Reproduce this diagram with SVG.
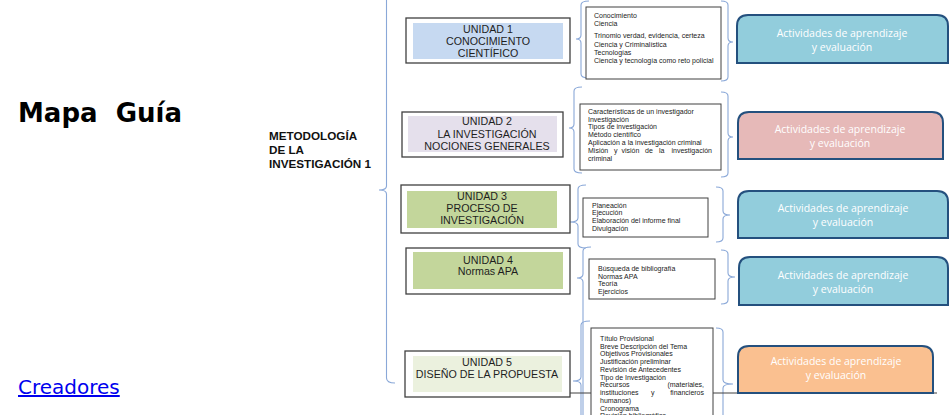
<svg xmlns="http://www.w3.org/2000/svg" width="950" height="415" viewBox="0 0 950 415">
<defs>
<style>
.unit{fill:#fff;stroke:#404040;stroke-width:1.3}
.ut{font-family:"Liberation Sans",Arial,sans-serif;font-size:10.7px;fill:#1e1e1e;text-anchor:middle}
.cbox{fill:#fff;stroke:#404040;stroke-width:1}
.ct{font-family:"Liberation Sans",Arial,sans-serif;font-size:7px;fill:#222}
.act{stroke:#24507e;stroke-width:2}
.at{font-family:"Open Sans","Liberation Sans",sans-serif;font-size:10.5px;fill:#fff;text-anchor:middle}
.br{fill:none;stroke:#8aa8d8;stroke-width:1.1}
</style>
</defs>
<rect width="950" height="415" fill="#fff"/>

<g id="title">
<text x="18" y="122" font-family="DejaVu Sans,Verdana,sans-serif" font-size="26" font-weight="bold" fill="#000">Mapa&#160; Guía</text>
</g>
<g id="creadores">
<text x="18" y="394" font-family="DejaVu Sans,Verdana,sans-serif" font-size="20" fill="#0000ee" text-decoration="underline">Creadores</text>
</g>
<g id="subject">
<text font-family="Liberation Sans,Arial,sans-serif" font-size="11.7" font-weight="bold" fill="#111">
<tspan x="269" y="140">METODOLOGÍA</tspan>
<tspan x="269" y="154">DE LA</tspan>
<tspan x="269" y="168">INVESTIGACIÓN 1</tspan>
</text>
</g>

<g id="connectors">
<path class="br" d="M386.5 -2 L386.5 186 Q386.5 190 379 190 Q386.5 190 386.5 194 L386.5 378 Q386.5 383 395 383"/>
<path class="br" d="M589 1 Q581 1 581 5 L581 35 Q581 39 576 39 Q581 39 581 43 L581 74 Q581 78 589 78"/>
<path class="br" d="M721 1 Q728 1 728 5 L728 38 Q728 42 733 42 Q728 42 728 46 L728 77 Q728 81 721 81"/>
<path class="br" d="M582 87 Q574 87 574 91 L574 124 Q574 128 569 128 Q574 128 574 132 L574 169 Q574 173 582 173"/>
<path class="br" d="M721 92 Q728 92 728 96 L728 133 Q728 137 733 137 Q728 137 728 141 L728 173 Q728 177 721 177"/>
<path class="br" d="M586 185 Q578 185 578 189 L578 218 Q578 222 570 222 Q578 222 578 226 L578 244 Q578 248 586 248"/>
<path class="br" d="M716 187 Q723 187 723 191 L723 211 Q723 215 730 215 Q723 215 723 219 L723 238 Q723 242 716 242"/>
<path class="br" d="M591 247 Q583 247 583 251 L583 274 Q583 278 577 278 Q583 278 583 282 L583 420"/>
<path class="br" d="M721 250 Q728 250 728 254 L728 273 Q728 277 735 277 Q728 277 728 281 L728 300 Q728 304 721 304"/>
<path class="br" d="M590 321 Q581 321 581 325 L581 377 Q581 381 573 381 Q581 381 581 385 L581 420"/>
<path class="br" d="M716 328 Q723 328 723 332 L723 380 Q723 384 733 384 Q723 384 723 388 L723 420"/>
<line x1="570" y1="393" x2="937" y2="393" stroke="#404040" stroke-width="1"/>
</g>

<g id="unit1">
<rect class="unit" x="406" y="18" width="164" height="45"/>
<rect x="413" y="23" width="150" height="36" fill="#c6d9f1"/>
<text class="ut"><tspan x="488" y="33">UNIDAD 1</tspan><tspan x="488" y="45">CONOCIMIENTO</tspan><tspan x="488" y="57">CIENTÍFICO</tspan></text>
</g>
<g id="unit2">
<rect class="unit" x="402" y="112" width="161" height="45"/>
<rect x="408" y="116" width="149" height="36" fill="#e5e0ec"/>
<text class="ut"><tspan x="487" y="125">UNIDAD 2</tspan><tspan x="487" y="137.5">LA INVESTIGACIÓN</tspan><tspan x="487" y="150">NOCIONES GENERALES</tspan></text>
</g>
<g id="unit3">
<rect class="unit" x="401" y="185" width="169" height="48"/>
<rect x="407" y="191" width="150" height="37" fill="#c3d69b"/>
<text class="ut"><tspan x="482" y="200">UNIDAD 3</tspan><tspan x="482" y="212">PROCESO DE</tspan><tspan x="482" y="224">INVESTIGACIÓN</tspan></text>
</g>
<g id="unit4">
<rect class="unit" x="406" y="248" width="164" height="46"/>
<rect x="413" y="252" width="150" height="37" fill="#c3d69b"/>
<text class="ut"><tspan x="488" y="264">UNIDAD 4</tspan><tspan x="488" y="275">Normas APA</tspan></text>
</g>
<g id="unit5">
<rect class="unit" x="405" y="351" width="165" height="46"/>
<rect x="413" y="356" width="149" height="36" fill="#ebf1de"/>
<text class="ut"><tspan x="487" y="366">UNIDAD 5</tspan><tspan x="487" y="378">DISEÑO DE LA PROPUESTA</tspan></text>
</g>

<g id="content1">
<rect class="cbox" x="586" y="7" width="135" height="72"/>
<text class="ct"><tspan x="594" y="17.5">Conocimiento</tspan><tspan x="594" y="26">Ciencia</tspan><tspan x="594" y="37.5">Trinomio verdad, evidencia, certeza</tspan><tspan x="594" y="47">Ciencia y Criminalística</tspan><tspan x="594" y="55">Tecnologías</tspan><tspan x="594" y="63">Ciencia y tecnología como reto policial</tspan></text>
</g>
<g id="content2">
<rect class="cbox" x="580" y="104" width="141" height="66"/>
<text class="ct"><tspan x="588" y="113.5">Características de un investigador</tspan><tspan x="588" y="121.5">Investigación</tspan><tspan x="588" y="128.5">Tipos de investigación</tspan><tspan x="588" y="136.5">Método científico</tspan><tspan x="588" y="144.5">Aplicación a la investigación criminal</tspan></text>
<text class="ct"><tspan x="588" y="152.5">Misión</tspan><tspan x="614" y="152.5">y</tspan><tspan x="621.5" y="152.5">visión</tspan><tspan x="645" y="152.5">de</tspan><tspan x="659" y="152.5">la</tspan></text>
<text class="ct" x="712" y="152.5" text-anchor="end">investigación</text>
<text class="ct" x="588" y="160.5">criminal</text>
</g>
<g id="content3">
<rect class="cbox" x="583" y="198" width="125" height="39"/>
<text class="ct"><tspan x="592" y="207.5">Planeación</tspan><tspan x="592" y="215">Ejecución</tspan><tspan x="592" y="223">Elaboración del informe final</tspan><tspan x="592" y="230.5">Divulgación</tspan></text>
</g>
<g id="content4">
<rect class="cbox" x="589" y="259" width="126" height="40"/>
<text class="ct"><tspan x="598" y="270.5">Búsqueda de bibliografía</tspan><tspan x="598" y="278.5">Normas APA</tspan><tspan x="598" y="285.5">Teoría</tspan><tspan x="598" y="293.5">Ejercicios</tspan></text>
</g>
<g id="content5">
<rect class="cbox" x="591" y="328" width="122" height="100"/>
<text class="ct"><tspan x="600" y="340.5">Título Provisional</tspan><tspan x="600" y="348.5">Breve Descripción del Tema</tspan><tspan x="600" y="355.5">Objetivos Provisionales</tspan><tspan x="600" y="363.5">Justificación preliminar</tspan><tspan x="600" y="371.5">Revisión de Antecedentes</tspan><tspan x="600" y="379.5">Tipo de Investigación</tspan></text>
<text class="ct"><tspan x="600" y="386.5">Recursos</tspan><tspan x="600" y="394.5">instituciones</tspan><tspan x="651" y="394.5">y</tspan></text>
<text class="ct" text-anchor="end"><tspan x="704" y="386.5">(materiales,</tspan><tspan x="704" y="394.5">financieros</tspan></text>
<text class="ct"><tspan x="600" y="402.5">humanos)</tspan><tspan x="600" y="410.5">Cronograma</tspan><tspan x="600" y="418">Revisión bibliográfica</tspan></text>
</g>

<g id="act1">
<path class="act" d="M737 63 L737 26 Q737 15 748 15 L937 15 Q948 15 948 26 L948 63 Z" fill="#92cddc"/>
<text class="at"><tspan x="842" y="37">Actividades de aprendizaje</tspan><tspan x="842" y="51">y evaluación</tspan></text>
</g>
<g id="act2">
<path class="act" d="M738 159 L738 123 Q738 112 749 112 L932 112 Q943 112 943 123 L943 159 Z" fill="#e6b9b8"/>
<text class="at"><tspan x="840" y="133">Actividades de aprendizaje</tspan><tspan x="840" y="147">y evaluación</tspan></text>
</g>
<g id="act3">
<path class="act" d="M738 238 L738 202 Q738 191 749 191 L937 191 Q948 191 948 202 L948 238 Z" fill="#92cddc"/>
<text class="at"><tspan x="843" y="212">Actividades de aprendizaje</tspan><tspan x="843" y="226">y evaluación</tspan></text>
</g>
<g id="act4">
<path class="act" d="M739 305 L739 268 Q739 257 750 257 L937 257 Q948 257 948 268 L948 305 Z" fill="#92cddc"/>
<text class="at"><tspan x="843" y="279">Actividades de aprendizaje</tspan><tspan x="843" y="293">y evaluación</tspan></text>
</g>
<g id="act5">
<path class="act" d="M738 393 L738 357 Q738 346 749 346 L922 346 Q933 346 933 357 L933 393 Z" fill="#fac090"/>
<text class="at"><tspan x="836" y="365">Actividades de aprendizaje</tspan><tspan x="836" y="379">y evaluación</tspan></text>
</g>
</svg>
